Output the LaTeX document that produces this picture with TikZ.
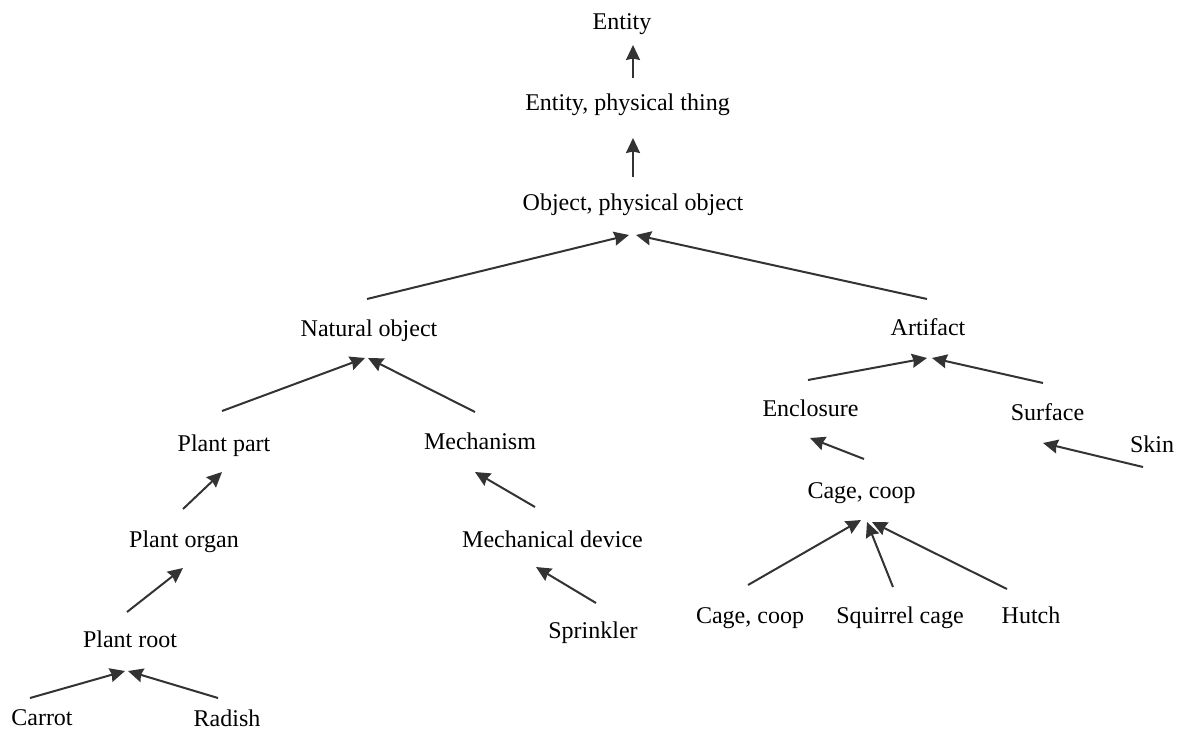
\documentclass[tikz,border=0pt]{standalone}
\usepackage{fontspec}
\setmainfont{Liberation Serif}
\usetikzlibrary{arrows.meta,calc}
\definecolor{arrowgray}{HTML}{333333}
\begin{document}
\begin{tikzpicture}[x=1pt,y=-1pt,
  lbl/.style={anchor=base,inner sep=0pt,font=\fontsize{24}{28}\selectfont},
  conn/.style={draw=arrowgray,line width=2pt,-{Stealth[length=15pt,width=14pt,inset=1.5pt]}}]
\useasboundingbox[fill=white] (0,0) rectangle (1182,730);
% nodes
\node[lbl] (ent)    at (622,30)    {Entity};
\node[lbl] (ept)    at (627.5,111) {Entity, physical thing};
\node[lbl] (obj)    at (633,210)   {Object, physical object};
\node[lbl] (nat)    at (369,336)   {Natural object};
\node[lbl] (art)    at (928,335)   {Artifact};
\node[lbl] (ppart)  at (224,451)   {Plant part};
\node[lbl] (mech)   at (480,449)   {Mechanism};
\node[lbl] (enc)    at (810.5,416) {Enclosure};
\node[lbl] (sur)    at (1047.5,420){Surface};
\node[lbl] (skin)   at (1152,452)  {Skin};
\node[lbl] (cage)   at (861.5,498) {Cage, coop};
\node[lbl] (porg)   at (184,547)   {Plant organ};
\node[lbl] (mdev)   at (552.5,547) {Mechanical device};
\node[lbl] (cageb)  at (750,623)   {Cage, coop};
\node[lbl] (sq)     at (900,623)   {Squirrel cage};
\node[lbl] (hutch)  at (1031,623)  {Hutch};
\node[lbl] (sprink) at (593,638)   {Sprinkler};
\node[lbl] (proot)  at (130,647)   {Plant root};
\node[lbl] (carrot) at (42,725)    {Carrot};
\node[lbl] (radish) at (227,726)   {Radish};
% connectors
\draw[conn] ($(ept.base)+(5.5,-33)$)    -- ($(ent.base)+(11,15)$);
\draw[conn] ($(obj.base)+(0,-33)$)      -- ($(ept.base)+(5.5,27)$);
\draw[conn] ($(nat.base)+(-2,-37)$)     -- ($(obj.base)+(-4,25)$);
\draw[conn] ($(art.base)+(-1,-36)$)     -- ($(obj.base)+(3,25)$);
\draw[conn] ($(ppart.base)+(-2,-40)$)   -- ($(nat.base)+(-4,22)$);
\draw[conn] ($(mech.base)+(-5,-37)$)    -- ($(nat.base)+(-1,22)$);
\draw[conn] ($(enc.base)+(-2.5,-36)$)   -- ($(art.base)+(-1,23)$);
\draw[conn] ($(sur.base)+(-4.5,-37)$)   -- ($(art.base)+(4,23)$);
\draw[conn] ($(cage.base)+(2.5,-39)$)   -- ($(enc.base)+(-0.5,22)$);
\draw[conn] ($(skin.base)+(-9,15)$)     -- ($(sur.base)+(-4.5,23)$);
\draw[conn] ($(porg.base)+(-1,-38)$)    -- ($(ppart.base)+(-2,21)$);
\draw[conn] ($(mdev.base)+(-17.5,-40)$) -- ($(mech.base)+(-5,23)$);
\draw[conn] ($(cageb.base)+(-2,-38)$)   -- ($(cage.base)+(-0.5,22)$);
\draw[conn] ($(sq.base)+(-7,-36)$)      -- ($(cage.base)+(5.5,24)$);
\draw[conn] ($(hutch.base)+(-24,-34)$)  -- ($(cage.base)+(10.5,24)$);
\draw[conn] ($(sprink.base)+(3,-35)$)   -- ($(mdev.base)+(-16.5,20)$);
\draw[conn] ($(proot.base)+(-3,-35)$)   -- ($(porg.base)+(-1,21)$);
\draw[conn] ($(carrot.base)+(-12,-27)$) -- ($(proot.base)+(-5,24)$);
\draw[conn] ($(radish.base)+(-9,-28)$)  -- ($(proot.base)+(-2,24)$);
\end{tikzpicture}
\end{document}
